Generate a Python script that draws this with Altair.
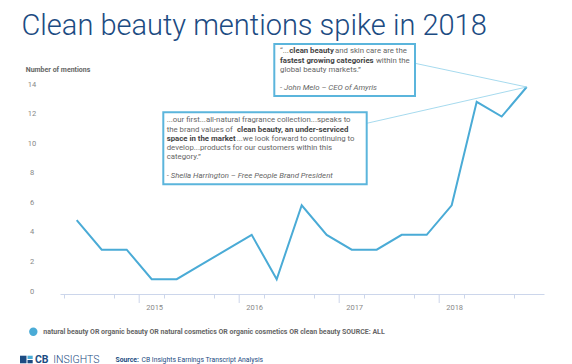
import altair as alt
import pandas as pd

# ---- data ----
quarter_years = [2014, 2014, 2014, 2015, 2015, 2015, 2015, 2016, 2016, 2016, 2016,
                 2017, 2017, 2017, 2017, 2018, 2018, 2018, 2018]
quarter_nums = [2, 3, 4, 1, 2, 3, 4, 1, 2, 3, 4, 1, 2, 3, 4, 1, 2, 3, 4]
mentions = [5, 3, 3, 1, 1, 2, 3, 4, 1, 6, 4, 3, 3, 4, 4, 6, 13, 12, 14]
year_ticks = [2015, 2016, 2017, 2018]
y_ticks = [0, 2, 4, 6, 8, 10, 12, 14]

t_mid = [y + (q - 0.5) / 4 for y, q in zip(quarter_years, quarter_nums)]
quarter_starts = [2014.25 + 0.25 * i for i in range(19)]

df = pd.DataFrame({"t": t_mid, "mentions": mentions})
df_years = pd.DataFrame({"yr": year_ticks})
df_y = pd.DataFrame({"v": y_ticks})

# ---- geometry ----
OX, OY = 60, 87          # page position of plot origin
W, H = 484, 207
LINE = "#4aabd6"
BOX = "#5bb5dc"
NAVY = "#1c4b82"
AXC = "#ccd6eb"
FS = 7.8

xscale = alt.Scale(domain=[2014.208, 2019.048], nice=False, zero=False)
yscale = alt.Scale(domain=[0, 14], nice=False, zero=False)

line = alt.Chart(df).mark_line(color=LINE, strokeWidth=2).encode(
    x=alt.X("t:Q", scale=xscale, axis=alt.Axis(
        values=quarter_starts, grid=False, title=None, labels=False,
        tickSize=4, tickColor=AXC, domainColor=AXC)),
    y=alt.Y("mentions:Q", scale=yscale, axis=None),
)

year_rules = alt.Chart(df_years).mark_rule(color=AXC, strokeWidth=1).encode(
    x=alt.X("yr:Q", scale=xscale), y=alt.value(H), y2=alt.value(H + 9))

year_labels = alt.Chart(df_years).mark_text(
    align="left", baseline="middle", dx=7, font="Roboto", fontSize=7.5, color="#888").encode(
    x=alt.X("yr:Q", scale=xscale), y=alt.value(H + 13.7), text=alt.Text("yr:Q", format="d"))

y_labels = alt.Chart(df_y).mark_text(
    align="center", baseline="middle", dy=-2.5, font="Roboto", fontSize=7.5, color="#888").encode(
    y=alt.Y("v:Q", scale=yscale, axis=None), x=alt.value(-28), text=alt.Text("v:Q", format="d"))


def px_to_data(px, py):
    return (2014.208 + (px - OX) / 100.0, (OY + H - py) / (H / 14.0))


def connector(px, py):
    dx, dy = px_to_data(px, py)
    return alt.Chart().mark_rule(color="#8fd0ea", strokeWidth=0.8).encode(
        x=alt.datum(dx), y=alt.datum(dy),
        x2=alt.datum(t_mid[-1]), y2=alt.datum(mentions[-1]))


def box(x0, y0, x1, y1):
    return alt.Chart().mark_rect(fill="white", stroke=BOX, strokeWidth=2).encode(
        x=alt.value(x0 - OX), x2=alt.value(x1 - OX),
        y=alt.value(y0 - OY), y2=alt.value(y1 - OY))


def txt(s, px, py, size=FS, weight="normal", color="#666", font="Roboto",
        style="normal", align="left", baseline="middle"):
    return alt.Chart().mark_text(
        text=s, align=align, baseline=baseline, font=font, fontSize=size,
        fontWeight=weight, fontStyle=style, color=color).encode(
        x=alt.value(px - OX), y=alt.value(py - OY))


B = "#444"
layers = [line, year_rules, year_labels, y_labels,
          connector(415, 63.3), connector(366.7, 123.3),
          box(274.3, 44, 415, 96), box(163.3, 112.3, 366.7, 184.3),
          # top callout
          txt("“...", 280, 50.7), txt("clean beauty", 289.3, 50.7, weight="bold", color=B),
          txt("and skin care are the", 335, 50.7),
          txt("fastest growing categories", 280, 60.7, weight="bold", color=B),
          txt("within the", 376, 60.7),
          txt("global beauty markets.”", 280, 69.7),
          txt("- John Melo – CEO of Amyris", 280, 87.7, style="italic"),
          # lower callout
          txt("...our first...all-natural fragrance collection...speaks to", 166.7, 120),
          txt("the brand values of", 166.7, 129.7),
          txt("clean beauty, an under-serviced", 237, 129.7, weight="bold", color=B),
          txt("space in the market", 166.7, 139, weight="bold", color=B),
          txt("...we look forward to continuing to", 236.7, 139),
          txt("develop...products for our customers within this", 166.7, 147.7),
          txt("category.”", 166.7, 156.7),
          txt("- Sheila Harrington – Free People Brand President", 166.7, 175.7, style="italic"),
          # titles
          txt("Clean beauty mentions spike in 2018", 21.5, 35, size=29, weight=300,
              color=NAVY, baseline="alphabetic"),
          txt("Number of mentions", 25.7, 70, size=7, weight="bold", color="#666"),
          # legend
          alt.Chart().mark_point(filled=True, shape="circle", size=70, color=LINE, opacity=1).encode(
              x=alt.value(33.3 - OX), y=alt.value(331.7 - OY)),
          txt("natural beauty OR organic beauty OR natural cosmetics OR organic cosmetics OR clean beauty SOURCE: ALL",
              43.3, 332, size=7.0, weight="bold", color="#666"),
          # footer
          alt.Chart().mark_rect(color=NAVY).encode(
              x=alt.value(20 - OX), x2=alt.value(26.5 - OX), y=alt.value(355.7 - OY), y2=alt.value(363.3 - OY)),
          alt.Chart().mark_rect(color="#4aabd6").encode(
              x=alt.value(27.5 - OX), x2=alt.value(32.7 - OX), y=alt.value(355.7 - OY), y2=alt.value(359 - OY)),
          alt.Chart().mark_rect(color=NAVY).encode(
              x=alt.value(27.5 - OX), x2=alt.value(32.7 - OX), y=alt.value(360 - OY), y2=alt.value(363.3 - OY)),
          txt("CB", 35, 359.5, size=10.5, weight="bold", color=NAVY),
          txt("INSIGHTS", 53.3, 359.5, size=10.5, weight=300, color=NAVY),
          txt("Source:", 115.5, 359.5, size=6.8, weight="bold", color=NAVY),
          txt("CB Insights Earnings Transcript Analysis", 141.5, 359.5, size=6.8, color=NAVY),
          ]

chart = alt.layer(*layers).properties(
    width=W, height=H,
    padding={"left": OX - 8, "top": OY - 8, "right": 556 - (OX - 8) - W, "bottom": 356 - (OY - 8) - H},
    autosize=alt.AutoSizeParams(type="none"),
).configure_view(stroke=None)

chart.save("out.html", embed_options={"renderer": "svg", "actions": False})
